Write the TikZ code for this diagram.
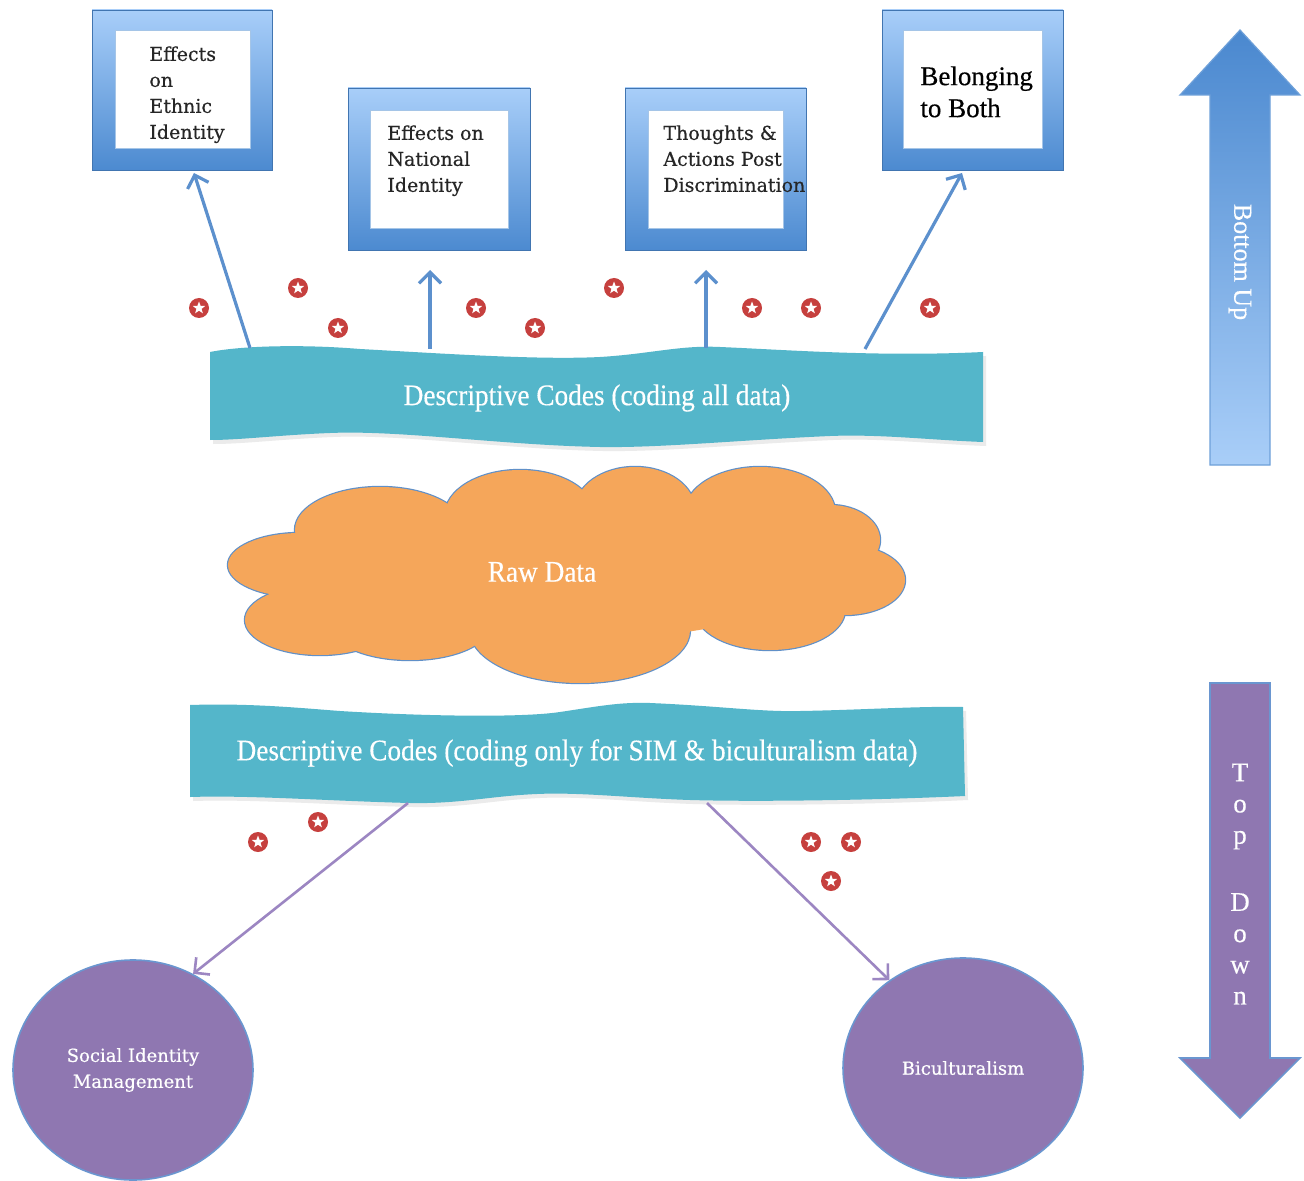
\documentclass[tikz,border=0pt]{standalone}
\usepackage{fontspec}
\setmainfont{DejaVu Serif}
\newfontfamily\boxf[FakeBold=0.5]{DejaVu Serif}
\newfontfamily\condf[FakeStretch=0.91,FakeBold=0.3]{Liberation Serif}
\newfontfamily\camf[FakeBold=0.4]{Liberation Serif}
\usetikzlibrary{arrows.meta,shapes.geometric}
\definecolor{frameTop}{HTML}{A8CEF9}
\definecolor{frameBot}{HTML}{4C8AD0}
\definecolor{arrowBlue}{HTML}{5C90CD}
\definecolor{bannerC}{HTML}{54B6CA}
\definecolor{cloudC}{HTML}{F5A65A}
\definecolor{cloudLine}{HTML}{6090C8}
\definecolor{purpleC}{HTML}{8F77B1}
\definecolor{purpleArrow}{HTML}{9C86C2}
\definecolor{starC}{HTML}{C6403E}
\definecolor{edgeBlue}{HTML}{6A96D0}
\definecolor{upTop}{HTML}{4A88CF}
\definecolor{upBot}{HTML}{A9CEF8}
\begin{document}
\begin{tikzpicture}[x=0.5pt,y=-0.5pt,
  frameout/.style={rectangle, inner sep=0, top color=frameTop, bottom color=frameBot, draw=frameBot!85!black, line width=0.4pt},
  framein/.style={rectangle, inner sep=0, fill=white, draw=frameBot!50, line width=0.4pt},
  boxtext/.style={anchor=north west, inner sep=0, align=left, text=black!85, font=\boxf\fontsize{9.5}{13}\selectfont},
  uparrow/.style={draw=arrowBlue, line width=1.6pt, -{Straight Barb[length=5.5pt,width=11pt]}},
  downarrow/.style={draw=purpleArrow, line width=1.3pt, -{Straight Barb[length=5.5pt,width=11pt]}},
  badge/.style={circle, fill=starC, minimum size=10pt, inner sep=0,
    path picture={\node[star, star points=5, star point ratio=2.4, fill=white, inner sep=0, minimum size=6.5pt] at (path picture bounding box.center) {};}},
  bannertext/.style={text=white, font=\condf\fontsize{15}{18}\selectfont, inner sep=0},
  oval/.style={ellipse, fill=purpleC, draw=edgeBlue, line width=0.8pt, minimum width=120pt, minimum height=110pt, text=white, align=center, font=\boxf\fontsize{9}{13}\selectfont},
  cloudlobe/.style={draw=cloudLine, line width=1.2pt}
]
\useasboundingbox (0,0) rectangle (1304,1181);
\fill[white] (0,0) rectangle (1304,1181);

% ---------- top frames ----------
\node[frameout, minimum width=90pt, minimum height=80pt] (f1) at (182,90) {};
\node[framein, minimum width=67.5pt, minimum height=59pt] (w1) at (182.5,89) {};
\node[boxtext] (t1) at (149,46) {Effects\\on\\Ethnic\\Identity};

\node[frameout, minimum width=91pt, minimum height=81pt] (f2) at (439,169) {};
\node[framein, minimum width=69pt, minimum height=59pt] (w2) at (439,169) {};
\node[boxtext] (t2) at (387,125) {Effects on\\National\\Identity};

\node[frameout, minimum width=90.5pt, minimum height=81pt] (f3) at (715.5,169) {};
\node[framein, minimum width=67.5pt, minimum height=59pt] (w3) at (715.5,169) {};
\node[boxtext] (t3) at (663,125) {Thoughts \&\\Actions Post\\Discrimination};

\node[frameout, minimum width=90.5pt, minimum height=80pt] (f4) at (972.5,90) {};
\node[framein, minimum width=69.5pt, minimum height=59pt] (w4) at (972.5,89) {};
\node[boxtext, font=\camf\fontsize{13.5}{16}\selectfont, text=black] (t4) at (920,66) {Belonging\\to Both};

% ---------- banner 1 ----------
\fill[black!8] (213,356) .. controls (243,350) and (303,348) .. (363,353)
  .. controls (453,358) and (543,364) .. (603,361)
  .. controls (653,358) and (683,349) .. (723,351)
  .. controls (793,354) and (883,361) .. (986,356)
  -- (986,446) .. controls (933,444) and (883,438) .. (833,440)
  .. controls (743,444) and (663,452) .. (603,451)
  .. controls (503,449) and (403,434) .. (333,437)
  .. controls (283,439) and (243,444) .. (213,444) -- cycle;
\fill[bannerC] (210,352) .. controls (240,346) and (300,344) .. (360,349)
  .. controls (450,354) and (540,360) .. (600,357)
  .. controls (650,354) and (680,345) .. (720,347)
  .. controls (790,350) and (880,357) .. (983,352)
  -- (983,442) .. controls (930,440) and (880,434) .. (830,436)
  .. controls (740,440) and (660,448) .. (600,447)
  .. controls (500,445) and (400,430) .. (330,433)
  .. controls (280,435) and (240,440) .. (210,440) -- cycle;
\node[bannertext] (d1) at (597,398) {Descriptive Codes (coding all data)};

\coordinate (a1) at (250,348);
\coordinate (a2) at (430,349);
\coordinate (a3) at (706,348);
\coordinate (a4) at (865,349);
\coordinate (e1) at (194,173);
\coordinate (e2) at (430,270);
\coordinate (e3) at (706,270);
\coordinate (e4) at (962,173);
\draw[uparrow] (a1) -- (e1);
\draw[uparrow] (a2) -- (e2);
\draw[uparrow] (a3) -- (e3);
\draw[uparrow] (a4) -- (e4);

% ---------- stars ----------
\node[badge] (s1) at (199,308) {};
\node[badge] (s2) at (298,288) {};
\node[badge] (s3) at (338,328) {};
\node[badge] (s4) at (476,308) {};
\node[badge] (s5) at (535,328) {};
\node[badge] (s6) at (614,288) {};
\node[badge] (s7) at (752,308) {};
\node[badge] (s8) at (811,308) {};
\node[badge] (s9) at (930,308) {};
\node[badge] (s10) at (258,842) {};
\node[badge] (s11) at (318,822) {};
\node[badge] (s12) at (811,842) {};
\node[badge] (s13) at (851,842) {};
\node[badge] (s14) at (831,881) {};

% ---------- cloud ----------
\foreach \cx/\cy/\rx/\ry in {300/565/36/16, 320/620/37.5/17.5, 380/530/42.5/21.5, 520/515/37.5/22.5,
  635/510/30/21.5, 760/512/37.5/22.5, 830/540/25/17.5, 845/580/30/17.5, 770/610/37.5/20,
  580/630/55/26.5, 410/625/40/17.5}
  \draw[cloudlobe] (\cx,\cy) ellipse [x radius=\rx pt, y radius=\ry pt];
\foreach \cx/\cy/\rx/\ry in {300/565/36/16, 320/620/37.5/17.5, 380/530/42.5/21.5, 520/515/37.5/22.5,
  635/510/30/21.5, 760/512/37.5/22.5, 830/540/25/17.5, 845/580/30/17.5, 770/610/37.5/20,
  580/630/55/26.5, 410/625/40/17.5, 570/570/125/35}
  \fill[cloudC] (\cx,\cy) ellipse [x radius=\rx pt, y radius=\ry pt];
\node[text=white, font=\condf\fontsize{15}{18}\selectfont] (raw) at (542,572) {Raw Data};

% ---------- banner 2 ----------
\fill[black!8] (193,709) .. controls (253,707) and (303,712) .. (343,715)
  .. controls (423,720) and (523,722) .. (563,716)
  .. controls (603,710) and (623,706) .. (653,707)
  .. controls (723,710) and (763,716) .. (803,715)
  .. controls (863,714) and (923,710) .. (966,711)
  -- (968,800) .. controls (883,804) and (763,806) .. (693,804)
  .. controls (633,802) and (583,796) .. (540,798)
  .. controls (493,800) and (463,808) .. (413,807)
  .. controls (333,805) and (253,799) .. (193,801) -- cycle;
\fill[bannerC] (190,705) .. controls (250,703) and (300,708) .. (340,711)
  .. controls (420,716) and (520,718) .. (560,712)
  .. controls (600,706) and (620,702) .. (650,703)
  .. controls (720,706) and (760,712) .. (800,711)
  .. controls (860,710) and (920,706) .. (963,707)
  -- (965,796) .. controls (880,800) and (760,802) .. (690,800)
  .. controls (630,798) and (580,792) .. (537,794)
  .. controls (490,796) and (460,804) .. (410,803)
  .. controls (330,801) and (250,795) .. (190,797) -- cycle;
\node[bannertext] (d2) at (577,753) {Descriptive Codes (coding only for SIM \& biculturalism data)};

% ---------- bottom ovals ----------
\node[oval] (sim) at (133,1070) {Social Identity\\Management};
\node[oval] (bic) at (963,1068) {Biculturalism};
\coordinate (b1) at (408,803);
\coordinate (b2) at (707,803);
\draw[downarrow] (b1) -- (sim.58);
\draw[downarrow] (b2) -- (bic.130);

% ---------- side arrows ----------
\path[top color=upTop, bottom color=upBot, draw=upTop!80, line width=0.6pt]
  (1210,465) -- (1210,95) -- (1180,95) -- (1240,30) -- (1300,95) -- (1270,95) -- (1270,465) -- cycle;
\node[rotate=-90, text=white, font=\camf\fontsize{13}{15}\selectfont] (bu) at (1240,262) {Bottom Up};

\path[fill=purpleC, draw=edgeBlue, line width=0.8pt]
  (1210,683) -- (1270,683) -- (1270,1058) -- (1300,1058) -- (1240,1118) -- (1180,1058) -- (1210,1058) -- cycle;
\node[align=center, text=white, font=\camf\fontsize{13.5}{15.6}\selectfont] (td) at (1240,884) {T\\o\\p\\[18pt]D\\o\\w\\n};
\end{tikzpicture}
\end{document}
